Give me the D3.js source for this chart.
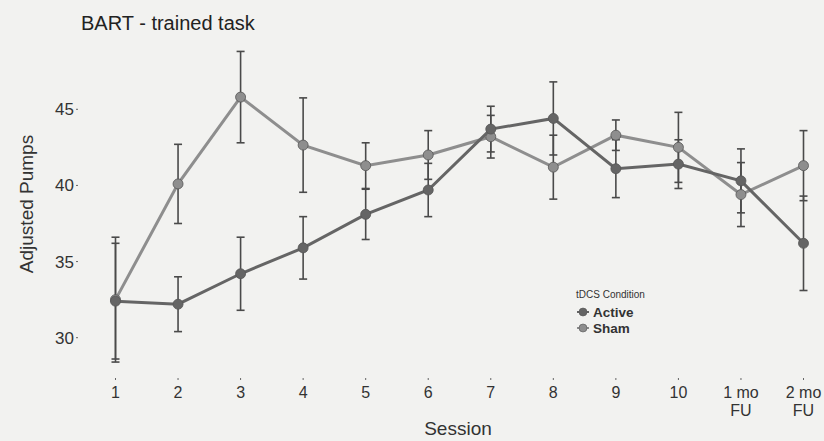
<!DOCTYPE html>
<html>
<head>
<meta charset="utf-8">
<script src="https://cdn.jsdelivr.net/npm/d3@7"></script>
<style>
  body { margin: 0; background: #f2f2f0; }
  svg { display: block; font-family: "Liberation Sans", Arial, sans-serif; }
</style>
</head>
<body>
<svg id="chart" width="824" height="441"></svg>
<script>
// sessions on the x axis (follow-ups get two-line labels)
var sessions = ["1", "2", "3", "4", "5", "6", "7", "8", "9", "10", "1 mo FU", "2 mo FU"];
var sessionLabels = [["1"], ["2"], ["3"], ["4"], ["5"], ["6"], ["7"], ["8"], ["9"], ["10"], ["1 mo", "FU"], ["2 mo", "FU"]];

// mean adjusted pumps and error (half-length of bar)
var activeMean = [32.4, 32.2, 34.2, 35.9, 38.1, 39.7, 43.7, 44.4, 41.1, 41.4, 40.3, 36.2];
var activeErr  = [3.8, 1.8, 2.4, 2.05, 1.65, 1.75, 1.5, 2.4, 1.9, 1.6, 2.1, 3.1];
var shamMean   = [32.5, 40.1, 45.8, 42.65, 41.3, 42.0, 43.2, 41.2, 43.3, 42.5, 39.4, 41.3];
var shamErr    = [4.1, 2.6, 3.0, 3.1, 1.5, 1.6, 1.4, 2.1, 1.0, 2.3, 2.1, 2.3];

var yTicks = [30, 35, 40, 45];

var series = [
  { name: "Active", mean: activeMean, err: activeErr, color: "#656565" },
  { name: "Sham",   mean: shamMean,   err: shamErr,   color: "#8e8e8e" }
];

var svg = d3.select("#chart");

var x = d3.scalePoint().domain(sessions).range([115.5, 803.5]);
var y = d3.scaleLinear().domain([30, 45]).range([337.7, 109.3]);

// title
svg.append("text")
  .attr("x", 81).attr("y", 30)
  .style("font-size", "20px").style("fill", "#222")
  .text("BART - trained task");

// y axis: labels plus tiny dot ticks, no line
var yAxis = svg.append("g");
yAxis.selectAll("text").data(yTicks).enter().append("text")
  .attr("x", 74).attr("y", function(d) { return y(d) + 6; })
  .attr("text-anchor", "end")
  .style("font-size", "17px").style("fill", "#333")
  .text(function(d) { return d; });
yAxis.selectAll("line").data(yTicks).enter().append("line")
  .attr("x1", 76).attr("x2", 78)
  .attr("y1", function(d) { return y(d); }).attr("y2", function(d) { return y(d); })
  .style("stroke", "#666").style("stroke-width", 1);

svg.append("text")
  .attr("transform", "translate(33,204) rotate(-90)")
  .attr("text-anchor", "middle")
  .style("font-size", "19px").style("fill", "#333")
  .text("Adjusted Pumps");

// x axis labels with dot ticks
var xAxis = svg.append("g");
sessions.forEach(function(s, i) {
  xAxis.append("line")
    .attr("x1", x(s)).attr("x2", x(s))
    .attr("y1", 378).attr("y2", 380)
    .style("stroke", "#666").style("stroke-width", 1);
  var t = xAxis.append("text")
    .attr("x", x(s)).attr("y", 398)
    .attr("text-anchor", "middle")
    .style("font-size", "16px").style("fill", "#333");
  sessionLabels[i].forEach(function(part, j) {
    t.append("tspan").attr("x", x(s)).attr("dy", j === 0 ? 0 : 18).text(part);
  });
});

svg.append("text")
  .attr("x", 458).attr("y", 435)
  .attr("text-anchor", "middle")
  .style("font-size", "19px").style("fill", "#333")
  .text("Session");

// error bars
series.forEach(function(sr) {
  var g = svg.append("g");
  sessions.forEach(function(s, i) {
    var top = y(sr.mean[i] + sr.err[i]);
    var bot = y(sr.mean[i] - sr.err[i]);
    var cx = x(s);
    g.append("line").attr("x1", cx).attr("x2", cx).attr("y1", top).attr("y2", bot)
      .style("stroke", "#4a4a4a").style("stroke-width", 1.6);
    g.append("line").attr("x1", cx - 4).attr("x2", cx + 4).attr("y1", top).attr("y2", top)
      .style("stroke", "#4a4a4a").style("stroke-width", 1.6);
    g.append("line").attr("x1", cx - 4).attr("x2", cx + 4).attr("y1", bot).attr("y2", bot)
      .style("stroke", "#4a4a4a").style("stroke-width", 1.6);
  });
});

// lines and points
var line = d3.line()
  .x(function(d, i) { return x(sessions[i]); })
  .y(function(d) { return y(d); });

series.slice().reverse().forEach(function(sr) {
  svg.append("path")
    .datum(sr.mean)
    .attr("d", line)
    .style("fill", "none")
    .style("stroke", sr.color)
    .style("stroke-width", 3);
  svg.append("g").selectAll("circle").data(sr.mean).enter().append("circle")
    .attr("cx", function(d, i) { return x(sessions[i]); })
    .attr("cy", function(d) { return y(d); })
    .attr("r", 5)
    .style("fill", sr.color)
    .style("stroke", "#555")
    .style("stroke-width", 0.8);
});

// legend
var legend = svg.append("g").attr("transform", "translate(576,0)");
legend.append("text")
  .attr("x", 0).attr("y", 298)
  .style("font-size", "10px").style("fill", "#333")
  .text("tDCS Condition");
series.forEach(function(sr, i) {
  var ly = 312 + i * 16;
  legend.append("line")
    .attr("x1", 1).attr("x2", 13).attr("y1", ly).attr("y2", ly)
    .style("stroke", sr.color).style("stroke-width", 2);
  legend.append("circle")
    .attr("cx", 7).attr("cy", ly).attr("r", 4)
    .style("fill", sr.color).style("stroke", "#555").style("stroke-width", 0.6);
  legend.append("text")
    .attr("x", 17).attr("y", ly + 5)
    .style("font-size", "13.5px").style("font-weight", "bold").style("fill", "#333")
    .text(sr.name);
});
</script>
</body>
</html>
